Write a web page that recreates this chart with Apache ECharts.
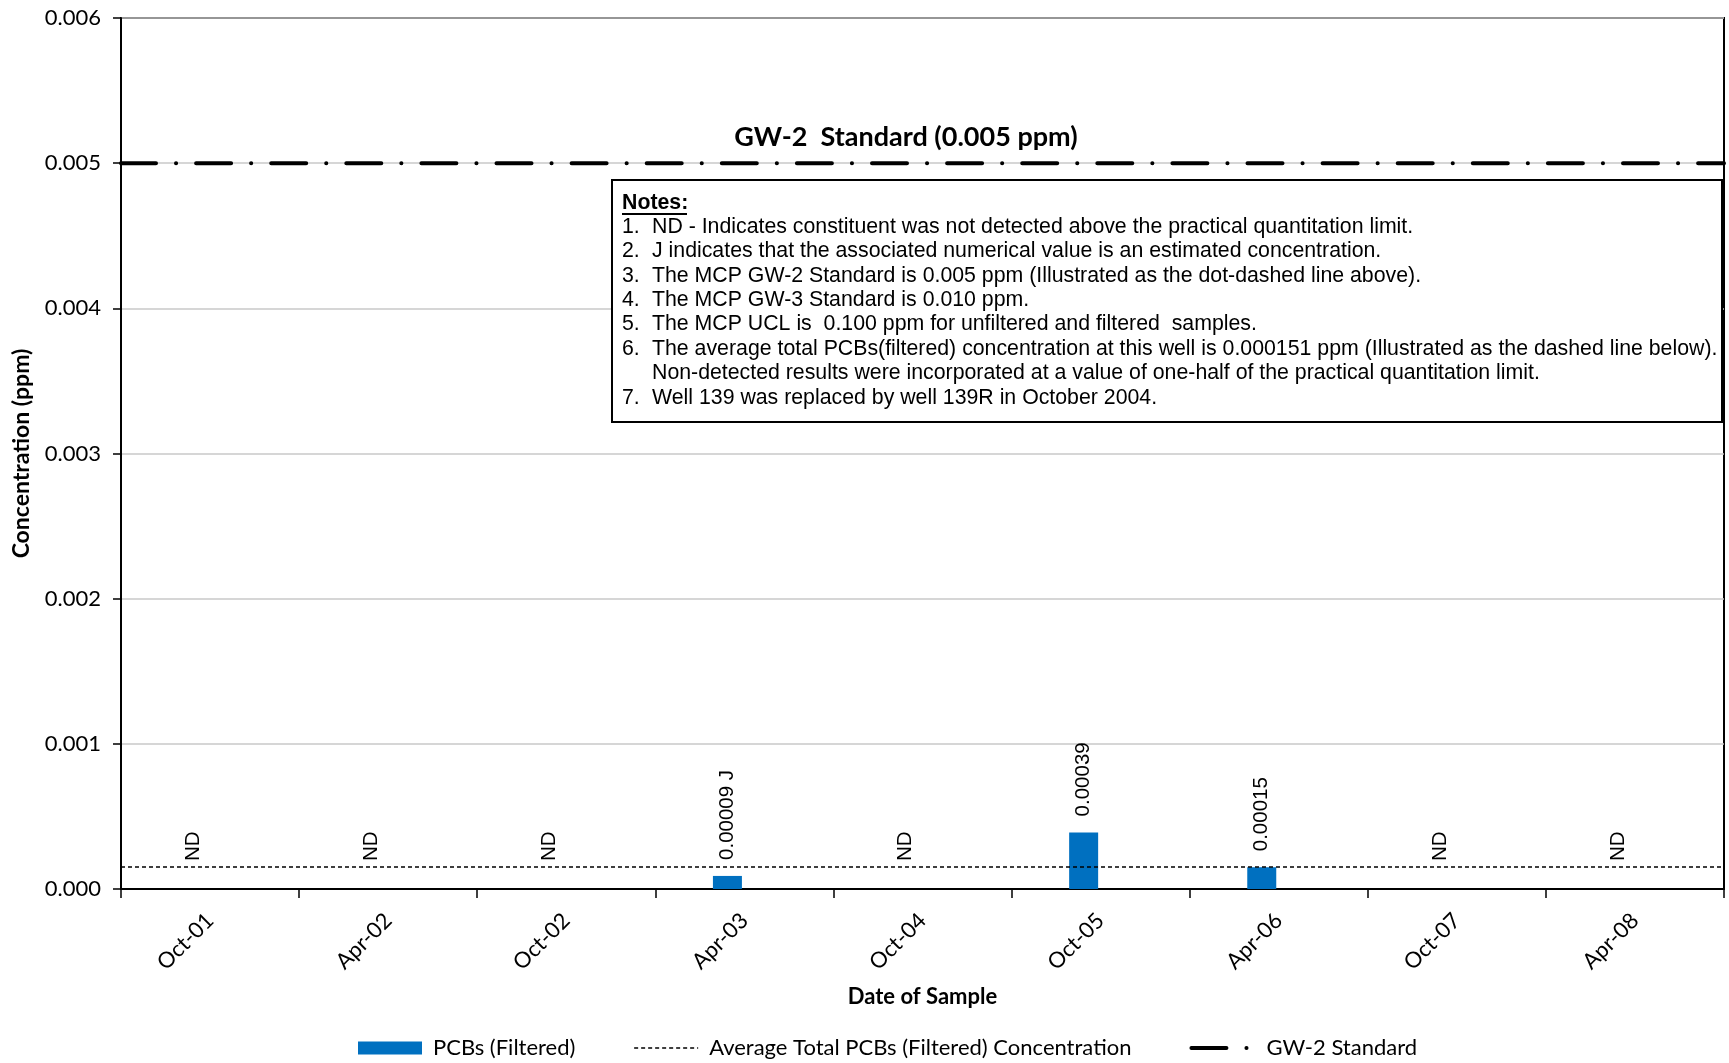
<!DOCTYPE html>
<html><head><meta charset="utf-8">
<script src="https://cdn.jsdelivr.net/npm/echarts@6/dist/echarts.min.js"></script>
<style>html,body{margin:0;padding:0;background:#fff}#c{width:1729px;height:1063px}</style>
</head><body><div id="c"></div>
<script>
// ---- data ----
const categories = ['Oct-01','Apr-02','Oct-02','Apr-03','Oct-04','Oct-05','Apr-06','Oct-07','Apr-08'];
const pcbFiltered = [0, 0, 0, 0.00009, 0, 0.00039, 0.00015, 0, 0];
const pcbLabels = ['ND','ND','ND','0.00009 J','ND','0.00039','0.00015','ND','ND'];
const detected = [false, false, false, true, false, true, true, false, false];
const avgConcentration = 0.000151;
const gw2Standard = 0.005;
const yMin = 0, yMax = 0.006, yInterval = 0.001;
const gw2Title = 'GW-2  Standard (0.005 ppm)';
const notesHeading = 'Notes:';
const noteNumbers = ['1.','2.','3.','4.','5.','6.','','7.'];
const noteTexts = [
  'ND - Indicates constituent was not detected above the practical quantitation limit.',
  'J indicates that the associated numerical value is an estimated concentration.',
  'The MCP GW-2 Standard is 0.005 ppm (Illustrated as the dot-dashed line above).',
  'The MCP GW-3 Standard is 0.010 ppm.',
  'The MCP UCL is  0.100 ppm for unfiltered and filtered  samples.',
  'The average total PCBs(filtered) concentration at this well is 0.000151 ppm (Illustrated as the dashed line below).',
  'Non-detected results were incorporated at a value of one-half of the practical quantitation limit.',
  'Well 139 was replaced by well 139R in October 2004.'
];

// ---- chart ----
const chart = echarts.init(document.getElementById('c'), null, {renderer: 'canvas'});
const CAL = 'Lato, "Open Sans", sans-serif';
const ARIAL = '"Liberation Sans", Arial, sans-serif';
const avgStyle = {color:'#000', width:1.5, type:[4,3]};
const gw2Style = {color:'#000', width:4, type:[35,20,0.1,20], cap:'round'};

const noteGraphics = [];
noteGraphics.push({type:'rect', shape:{x:612, y:180, width:1110, height:242},
  style:{fill:'#fff', stroke:'#000', lineWidth:2}, z:50});
noteGraphics.push({type:'text', x:622, y:203, z:51,
  style:{text:notesHeading, fontFamily:ARIAL, fontSize:21.3, fontWeight:'bold', fill:'#000', align:'left', verticalAlign:'middle'}});
noteGraphics.push({type:'line', z:51, shape:{x1:622, y1:214, x2:687, y2:214}, style:{stroke:'#000', lineWidth:2}});
noteTexts.forEach((t, i) => {
  const y = 227 + i * 24.4;
  if (noteNumbers[i]) noteGraphics.push({type:'text', x:622, y:y, z:51,
    style:{text:noteNumbers[i], fontFamily:ARIAL, fontSize:21.3, fill:'#000', align:'left', verticalAlign:'middle'}});
  noteGraphics.push({type:'text', x:652, y:y, z:51,
    style:{text:t, fontFamily:ARIAL, fontSize:21.3, fill:'#000', align:'left', verticalAlign:'middle'}});
});
noteGraphics.push({type:'text', x:906, y:137, z:51,
  style:{text:gw2Title, fontFamily:CAL, fontSize:27, fontWeight:'bold', fill:'#000', align:'center', verticalAlign:'middle'}});

// reference lines drawn across the full plot width on a hidden value x-axis spanning [0, 1]
const lineSpan = [0, 1];

const option = {
  animation: false,
  backgroundColor: '#fff',
  grid: {left:121, right:5, top:18, bottom:174, show:true, borderColor:'#000', borderWidth:2, backgroundColor:'transparent'},
  legend: {
    left: 358, top: 1037, padding: 0, itemWidth: 64, itemHeight: 13, itemGap: 58,
    textStyle: {fontFamily: CAL, fontSize: 22, color: '#000', padding:[0,0,0,6]},
    data: [
      {name:'PCBs (Filtered)', icon:'rect'},
      {name:'Average Total PCBs (Filtered) Concentration', itemStyle:{opacity:0}, lineStyle:{width:1.5, color:'#000'}},
      {name:'GW-2 Standard', itemStyle:{opacity:0}, lineStyle:{width:4, color:'#000'}}
    ]
  },
  xAxis: [{
    type: 'category', data: categories, boundaryGap: true,
    axisLine: {lineStyle: {color:'#000', width:2}},
    axisTick: {show:true, interval:0, length:9, lineStyle:{color:'#000', width:1.5}},
    axisLabel: {interval:0, rotate:45, fontFamily:CAL, fontSize:22, color:'#000', margin:28},
    name: 'Date of Sample', nameLocation: 'middle', nameGap: 97,
    nameTextStyle: {fontFamily:CAL, fontWeight:'bold', fontSize:22, color:'#000'}
  }, {
    type: 'value', min: lineSpan[0], max: lineSpan[1], show: false
  }],
  yAxis: {
    type: 'value', min: yMin, max: yMax, interval: yInterval,
    axisLine: {show:true, lineStyle:{color:'#000', width:2}},
    axisTick: {show:true, length:8, lineStyle:{color:'#000', width:1.5}},
    axisLabel: {formatter: v => v.toFixed(3), fontFamily:CAL, fontSize:22, color:'#000', margin:20},
    splitLine: {lineStyle:{color:'#c8c8c8', width:1.5}},
    name: 'Concentration (ppm)', nameLocation: 'middle', nameGap: 88, nameRotate: 90,
    nameTextStyle: {fontFamily:CAL, fontWeight:'bold', fontSize:23, color:'#000'}
  },
  series: [
    {
      name: 'PCBs (Filtered)', type: 'bar', barWidth: 29, barGap: '17%',
      itemStyle: {color:'#0070C0'},
      data: pcbFiltered.map((v, i) => ({value: v, label: {distance: detected[i] ? 16 : 28}})),
      label: {show:true, position:'top', rotate:90, align:'left', verticalAlign:'middle',
        formatter: p => pcbLabels[p.dataIndex], fontFamily:ARIAL, fontSize:20.5, color:'#000'},
      z: 3
    },
    {
      name: 'PCBs (Unfiltered)', type: 'bar', barWidth: 29, data: []
    },
    {
      name: 'Average Total PCBs (Filtered) Concentration', type: 'line', xAxisIndex: 1,
      data: lineSpan.map(x => [x, avgConcentration]), symbol: 'none', silent: true,
      itemStyle: {color:'#000'}, lineStyle: avgStyle, z: 4
    },
    {
      name: 'GW-2 Standard', type: 'line', xAxisIndex: 1,
      data: lineSpan.map(x => [x, gw2Standard]), symbol: 'none', silent: true,
      itemStyle: {color:'#000'}, lineStyle: gw2Style, z: 4
    }
  ],
  graphic: noteGraphics
};
chart.setOption(option);
</script></body></html>
